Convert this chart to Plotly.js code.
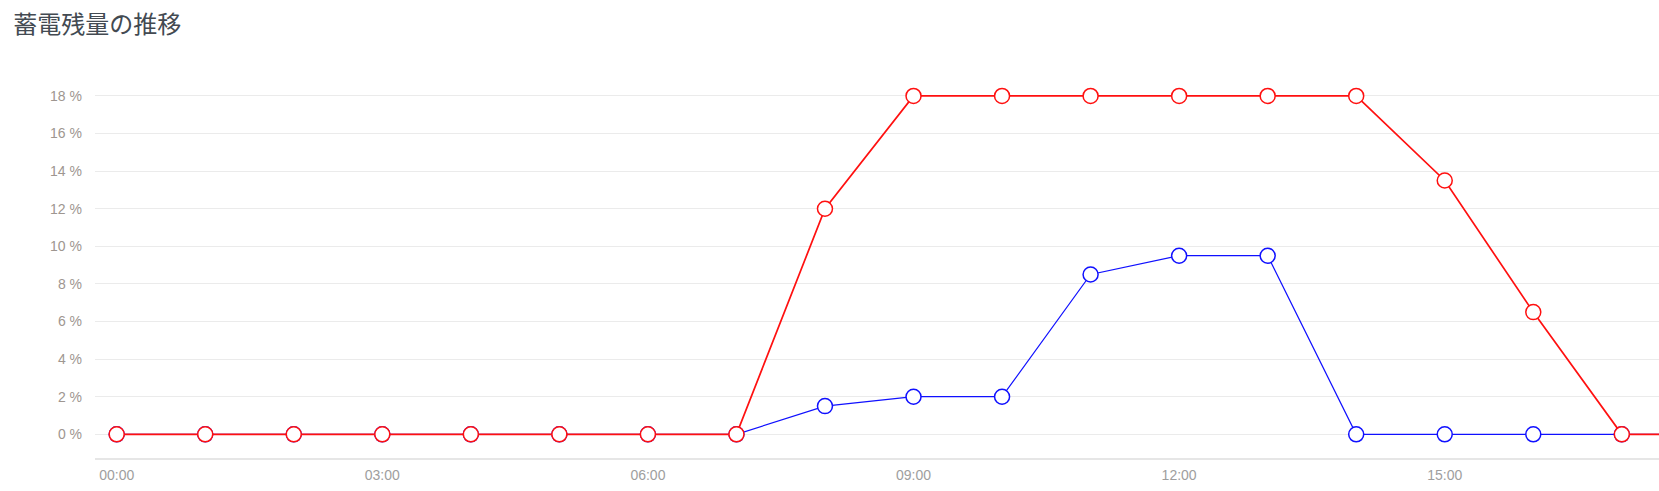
<!DOCTYPE html>
<html>
<head>
<meta charset="utf-8">
<script src="https://cdn.plot.ly/plotly-3.0.1.min.js"></script>
<style>html,body{margin:0;padding:0;background:#fff;}#chart{width:1659px;height:491px;}</style>
</head>
<body>
<div id="chart"></div>
<script>
const hours = [0,1,2,3,4,5,6,7,8,9,10,11,12,13,14,15,16,17,18,19,20,21,22,23];
const timeLabels = ["00:00","01:00","02:00","03:00","04:00","05:00","06:00","07:00","08:00","09:00","10:00","11:00","12:00","13:00","14:00","15:00","16:00","17:00","18:00","19:00","20:00","21:00","22:00","23:00"];
const blueValues = [0,0,0,0,0,0,0,0,1.5,2,2,8.5,9.5,9.5,0,0,0,0,0,0,0,0,0,0];
const redValues  = [0,0,0,0,0,0,0,0,12,18,18,18,18,18,18,13.5,6.5,0,0,0,0,0,0,0];
const yTicks = [0,2,4,6,8,10,12,14,16,18];
const xTickHours = [0,3,6,9,12,15,18,21];

function series(vals, color, w) {
  return {
    x: hours, y: vals, type: 'scatter', mode: 'lines+markers',
    line: {color: color, width: w},
    marker: {size: 15, color: '#ffffff', line: {color: color, width: 1.5}},
    cliponaxis: true,
    hoverinfo: 'skip'
  };
}

const data = [series(blueValues, '#1010ff', 1.2), series(redValues, '#ff1010', 1.7)];

const layout = {
  width: 1659, height: 491,
  margin: {l: 95, r: 0, t: 60, b: 33},
  paper_bgcolor: '#ffffff', plot_bgcolor: '#ffffff',
  showlegend: false,
  title: {text: '蓄電残量の推移', x: 0.008, xanchor: 'left', y: 0.949, yanchor: 'middle',
          font: {family: '"Noto Sans CJK JP", "Noto Sans", sans-serif', size: 24, color: '#434a52'}},
  xaxis: {
    range: [-0.245, 17.42],
    tickvals: xTickHours,
    ticktext: xTickHours.map(h => timeLabels[h]),
    showgrid: false, zeroline: false,
    showline: true, linecolor: '#e6e6e6', linewidth: 2,
    ticks: '', ticklen: 0,
    ticklabelstandoff: 3,
    tickfont: {family: 'Liberation Sans, Arial, sans-serif', size: 14, color: '#9e9e9e'}
  },
  yaxis: {
    range: [-1.26, 19.91],
    tickvals: yTicks,
    ticktext: yTicks.map(v => v + ' %'),
    showgrid: true, gridcolor: '#ebebeb', gridwidth: 1,
    zeroline: false, showline: false, ticks: '',
    ticklabelstandoff: 12,
    tickfont: {family: 'Liberation Sans, Arial, sans-serif', size: 14, color: '#9e9690'}
  }
};

Plotly.newPlot('chart', data, layout, {displayModeBar: false, staticPlot: true});
</script>
</body>
</html>
